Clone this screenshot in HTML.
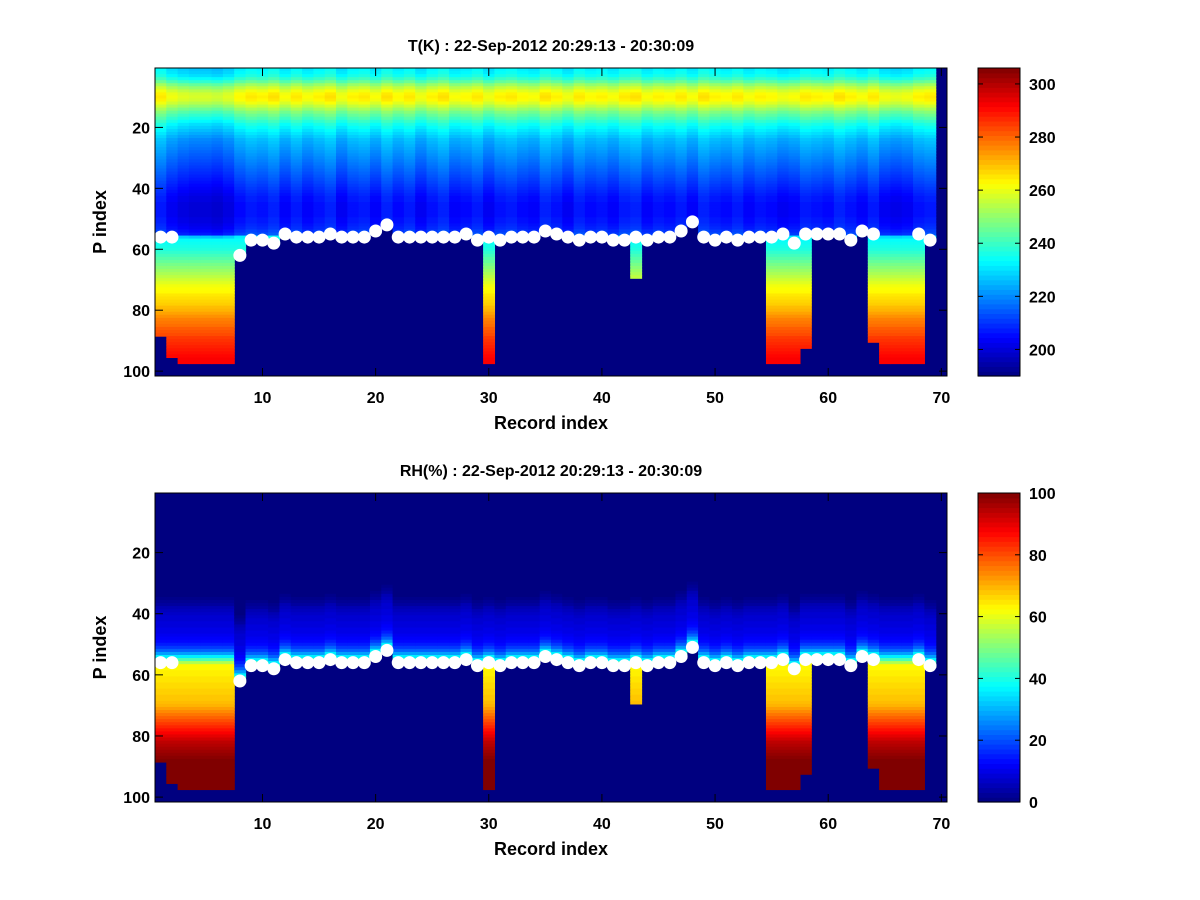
<!DOCTYPE html>
<html><head><meta charset="utf-8">
<style>
html,body{margin:0;padding:0;background:#fff;}
svg{display:block;font-family:"Liberation Sans",sans-serif;font-weight:bold;}
</style></head>
<body>
<svg id="fig" width="1200" height="900" viewBox="0 0 1200 900" xmlns="http://www.w3.org/2000/svg">
<rect x="0" y="0" width="1200" height="900" fill="#fff"/>
</svg>
<script>
const records = Array.from({length:70},(_,i)=>i+1);
const dotP = [56,56,null,null,null,null,null,62,57,57,58,55,56,56,56,55,56,56,56,54,
52,56,56,56,56,56,56,55,57,56,57,56,56,56,54,55,56,57,56,56,
57,57,56,57,56,56,54,51,56,57,56,57,56,56,56,55,58,55,55,55,
55,57,54,55,null,null,null,55,57,null];
const bottomP = [88,95,97,97,97,97,97,0,0,0,0,0,0,0,0,0,0,0,0,0,0,0,0,0,0,0,0,0,0,97,
0,0,0,0,0,0,0,0,0,0,0,0,69,0,0,0,0,0,0,0,0,0,0,0,97,97,97,92,0,0,0,0,0,90,97,97,97,97,0,-1];
const tProfile = [232,233,235,239,244,250,255,259,262,263,262,259,255,251,247,
244,241,238,235,233,231,229,227,225,224,223,222,221,220,219,
218,217,216,215,214,213,212,211,210,209,208,207,206,206,205,
205,205,205,205,206,206,207,208,210,212,232,234,235,236,237,
239,241,243,245,247,249,251,253,255,257,259,261,262,263,265,
266,267,268,270,271,273,275,277,278,279,281,282,283,285,286,
287,288,289,290,291,292,292,293,293,294,294];
const tOffset = [2,-2,-4,-5,-5,-6,-4,0,2,1,3,-1,2,-1,1,3,-2,1,2,-1,
3,0,2,-2,1,3,-1,0,2,-2,1,2,0,-1,3,1,-2,2,0,1,
-1,2,3,-1,1,0,2,-1,3,1,0,2,-1,1,0,-2,-1,2,1,0,
3,1,-1,2,-2,-3,-2,1,2,0];
const rhByDist = [55,45,36,28,22,18,15,13,12,11,10,10,9,9,8,8,7,6,5,3,2,1];
const rhBelow = [62,63,63,64,64,65,65,66,66,67,67,68,68,69,70,72,74,76,78,80,
82,84,86,88,90,92,94,95,96,97,98,99,100,100,100,100,100,100,100,100,100,100,100,100,100,100];
const xTicks = [10,20,30,40,50,60,70];
const yTicks = [20,40,60,80,100];
const tTicks = [200,220,240,260,280,300];
const rhTicks = [0,20,40,60,80,100];

const NS="http://www.w3.org/2000/svg";
const svg=document.getElementById('fig');
function mk(tag,attrs,parent){const e=document.createElementNS(NS,tag);for(const k in attrs)e.setAttribute(k,attrs[k]);(parent||svg).appendChild(e);return e;}
function jet(v){v=Math.max(0,Math.min(1,v));const c=x=>Math.round(255*Math.max(0,Math.min(1,x)));
return `rgb(${c(1.5-Math.abs(4*v-3))},${c(1.5-Math.abs(4*v-2))},${c(1.5-Math.abs(4*v-1))})`;}

const L=155,R=947;
const xs=r=>L+(r-0.5)*(R-L)/70;
function panel(top,bot,kind,title,cmin,cmax,cticks){
  const ys=p=>top+(p-0.5)*(bot-top)/101.1;
  const g=mk('g',{});
  
  
  mk('rect',{x:L,y:top,width:R-L,height:bot-top,fill:jet(0)},g);
  const cw=(R-L)/70, ch=(bot-top)/101.1;
  records.forEach((r,i)=>{
    if(bottomP[i]<0) return;
    const surf=dotP[i]==null?56:dotP[i];
    for(let p=1;p<=101;p++){
      let val=null;
      if(p<=surf){
        if(kind==='t') val=tProfile[p-1]+tOffset[i];
        else {const d=surf-p; val=d<rhByDist.length?rhByDist[d]:0;}
      } else if(p<=bottomP[i]){
        if(kind==='t') val=tProfile[p-1];
        else val=rhBelow[p-56];
      }
      if(val==null) continue;
      const c=mk('rect',{x:xs(r-0.5).toFixed(2),y:ys(p-0.5).toFixed(2),width:(cw+0.6).toFixed(2),height:(ch+0.6).toFixed(2),fill:jet((val-cmin)/(cmax-cmin))},g);
      
      
    }
  });
  records.forEach((r,i)=>{
    if(dotP[i]==null) return;
    const d=mk('circle',{cx:xs(r),cy:ys(dotP[i]),r:6.5,fill:'#fff'},g);
    
    
  });
  const ax=mk('rect',{x:L,y:top,width:R-L,height:bot-top,fill:'none',stroke:'#000','stroke-width':1});
  
  
  xTicks.forEach(t=>{
    const x=xs(t);
    mk('line',{x1:x,y1:bot,x2:x,y2:bot-8,stroke:'#000'});
    mk('line',{x1:x,y1:top,x2:x,y2:top+8,stroke:'#000'});
    const tx=mk('text',{x:x,y:bot+27,'text-anchor':'middle','font-size':16});
    tx.textContent=t;
    
    
  });
  yTicks.forEach(t=>{
    const y=ys(t);
    mk('line',{x1:L,y1:y,x2:L+8,y2:y,stroke:'#000'});
    mk('line',{x1:R,y1:y,x2:R-8,y2:y,stroke:'#000'});
    const tx=mk('text',{x:L-5,y:y+6,'text-anchor':'end','font-size':16});
    tx.textContent=t;
    
    
  });
  const tt=mk('text',{x:551,y:top-17,'text-anchor':'middle','font-size':16});
  tt.textContent=title;
  
  
  const xl=mk('text',{x:551,y:bot+53,'text-anchor':'middle','font-size':18});
  xl.textContent='Record index';
  
  
  const cy=(top+bot)/2;
  const yl=mk('text',{x:106,y:cy,'text-anchor':'middle','font-size':18,transform:`rotate(-90 106 ${cy})`});
  yl.textContent='P index';
  
  
  const cb=mk('g',{});
  
  
  const CL=978,CR=1020,N=64;
  for(let k=0;k<N;k++){
    const y0=bot-(k+1)*(bot-top)/N;
    mk('rect',{x:CL,y:y0,width:CR-CL,height:(bot-top)/N+0.6,fill:jet((k+0.5)/N)},cb);
  }
  mk('rect',{x:CL,y:top,width:CR-CL,height:bot-top,fill:'none',stroke:'#000'},cb);
  cticks.forEach(t=>{
    const y=bot-(t-cmin)/(cmax-cmin)*(bot-top);
    mk('line',{x1:CL,y1:y,x2:CL+5,y2:y,stroke:'#000'},cb);
    mk('line',{x1:CR,y1:y,x2:CR-5,y2:y,stroke:'#000'},cb);
    const tx=mk('text',{x:CR+9,y:y+6,'font-size':16},cb);
    tx.textContent=t;
    
    
  });
}
panel(68,376,'t','T(K) : 22-Sep-2012 20:29:13 - 20:30:09',190,306,tTicks);
panel(493,802,'rh','RH(%) : 22-Sep-2012 20:29:13 - 20:30:09',0,100,rhTicks);
</script>
</body></html>
